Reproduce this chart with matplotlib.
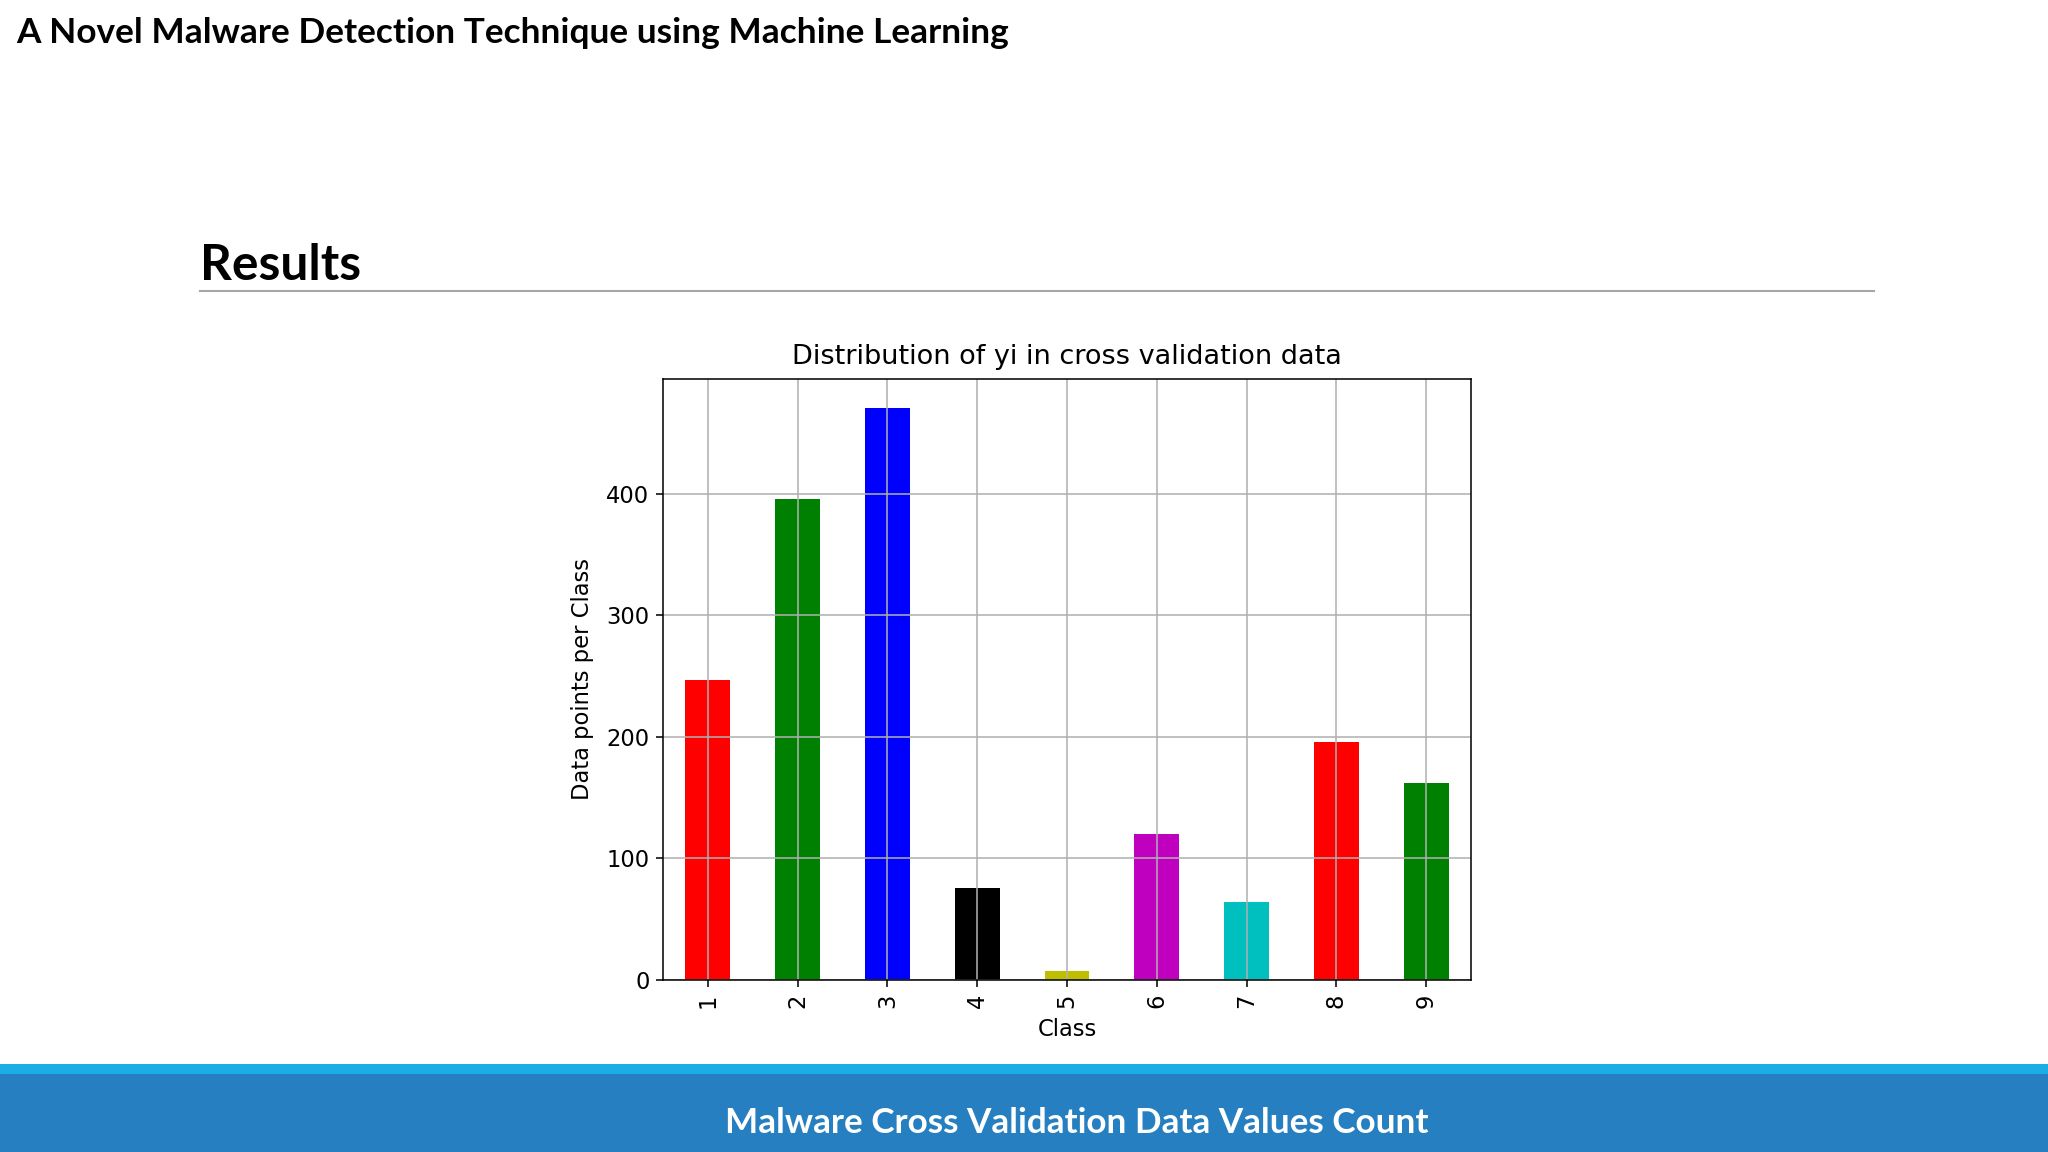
import numpy as np
import matplotlib.pyplot as plt
from matplotlib.patches import Rectangle
from matplotlib.lines import Line2D

# class counts in the cross validation split
classes = ["1", "2", "3", "4", "5", "6", "7", "8", "9"]
counts = [247, 396, 471, 76, 7, 120, 64, 196, 162]
bar_colors = ["r", "g", "b", "k", "y", "m", "c", "r", "g"]

slide_title = "A Novel Malware Detection Technique using Machine Learning"
section = "Results"
chart_title = "Distribution of yi in cross validation data"
footer = "Malware Cross Validation Data Values Count"

W, H = 2048, 1152
fig = plt.figure(figsize=(20.48, 11.52), dpi=100)
fig.patch.set_facecolor("white")

# slide header
fig.text(16 / W, 1 - 43 / H, slide_title, fontfamily="Lato", fontweight="bold",
         fontsize=25.4, color="black", ha="left", va="baseline")
fig.text(200 / W, 1 - 280 / H, section, fontfamily="Lato", fontweight="bold",
         fontsize=35.8, color="black", ha="left", va="baseline")
fig.add_artist(Line2D([200 / W, 1874 / W], [1 - 291 / H, 1 - 291 / H],
                      color="#a6a6a6", linewidth=1.5, transform=fig.transFigure))

# footer band
fig.add_artist(Rectangle((0, 0), 1, (H - 1074) / H, transform=fig.transFigure,
                         facecolor="#267fc0", edgecolor="none"))
fig.add_artist(Rectangle((0, (H - 1074) / H), 1, 10 / H, transform=fig.transFigure,
                         facecolor="#1dade6", edgecolor="none"))
fig.text(1077 / W, 1 - 1133 / H, footer, fontfamily="Lato", fontweight="bold",
         fontsize=25.3, color="white", ha="center", va="baseline")

# the chart
s = 1.63
ax = fig.add_axes([663 / W, 1 - 980 / H, (1471 - 663) / W, (980 - 379) / H])
x = np.arange(len(classes))
ax.bar(x, counts, width=0.5, color=bar_colors)
ax.set_xlim(-0.5, len(classes) - 0.5)
ax.set_xticks(x)
ax.set_xticklabels(classes, rotation=90)
ax.set_yticks([0, 100, 200, 300, 400])
ax.grid(True, color="#b0b0b0", linewidth=0.8 * 1.39)
ax.tick_params(labelsize=10 * s, width=0.8 * 1.39, length=3.5 * 1.39, pad=3.5 * 1.39)
for sp in ax.spines.values():
    sp.set_linewidth(0.8 * 1.39)
ax.set_title(chart_title, fontsize=12 * s, pad=11)
ax.set_xlabel("Class", fontsize=10 * s, labelpad=7)
ax.set_ylabel("Data points per Class", fontsize=10 * s, labelpad=9)

fig.savefig("out.png", dpi=100)
